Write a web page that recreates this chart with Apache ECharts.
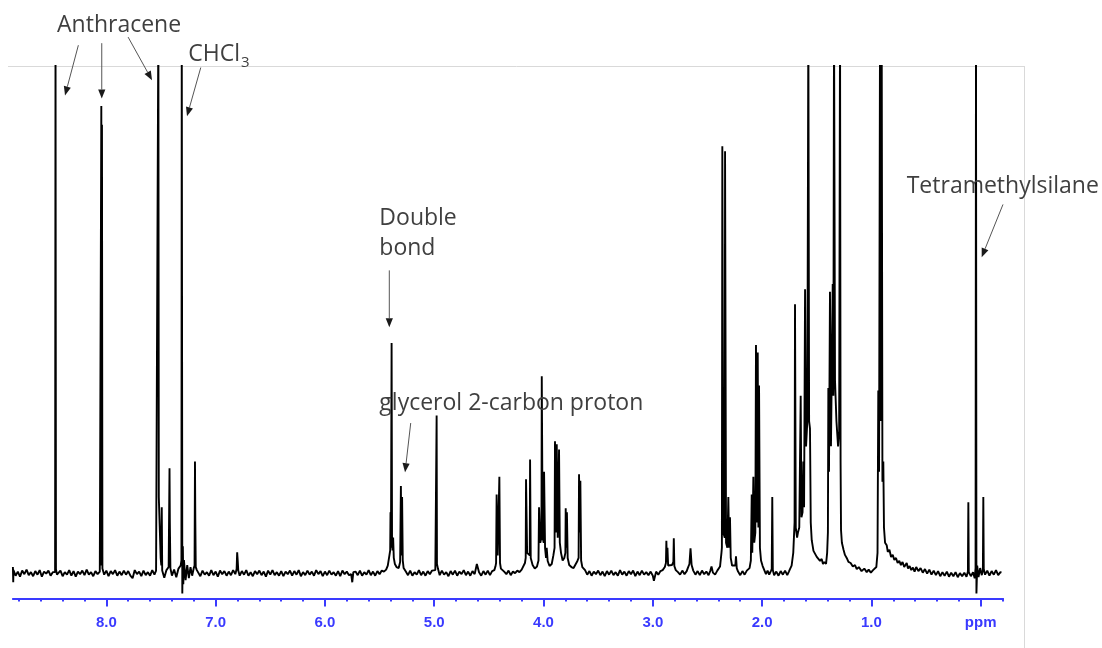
<!DOCTYPE html>
<html>
<head>
<meta charset="utf-8">
<title>1H NMR spectrum</title>
<script src="https://cdn.jsdelivr.net/npm/echarts@6/dist/echarts.min.js"></script>
<style>
  html, body { margin: 0; padding: 0; background: #fff; }
  #chart { width: 1102px; height: 648px; }
</style>
</head>
<body>
<div id="chart"></div>
<script>
// Baseline stretches are digitised every 0.02 ppm: start shift plus the intensities read along it.
function run(startPpm, values) {
  return values.map((v, i) => [Math.round((startPpm - i * 0.02) * 1000) / 1000, v]);
}

// ---- Spectrum: [chemical shift (ppm), intensity], listed from low field to high field ----
const aromaticRegion = [].concat(
  [[8.855,1.2],[8.852,-1.8]],
  run(8.85, [0.6,-0.5,0.3,-0.7,0.5,-0.2,0.7,-0.4,0.2,-0.6,0.4,-0.3,0.6,-0.7,0.3,-0.1,0.5,-0.5,0.2]),
  [[8.475,0.4],[8.469,0.2],[8.465,110],[8.461,0.8],[8.452,-0.3]],
  run(8.44, [-0.4,0.5,-0.6,0.2,-0.3,0.6,-0.5,0.4,-0.7,0.3,-0.2,0.5,-0.4,0.7,-0.3,0.2,-0.6,0.4,-0.2,0.3]),
  [[8.049,0.4],[8.046,92.1],[8.043,1.5],[8.040,88.4],[8.036,0.9]],
  run(8.02, [-0.3,0.5,-0.6,0.4,-0.2,0.6,-0.5,0.3,-0.4,0.5,-0.3,0.4,-0.5,-1.0,0.6,-0.2,0.3,-0.6,0.5,-0.4,0.2,-0.5,0.6,-0.3]),
  [[7.545,0.5],
   [7.528,0.8],[7.524,110],[7.520,15],[7.510,15],[7.503,3],[7.497,1.5],[7.493,13],[7.489,0.5],
   [7.47,-0.9],[7.45,0.6],[7.43,1.2],[7.422,20.7],[7.419,10],[7.414,1.0],
   [7.40,-0.5],[7.38,0.7],[7.36,-0.8],[7.34,0.9],[7.32,1.5],
   [7.313,2.5],[7.310,110],[7.305,-4],[7.300,5.3],[7.296,-2.2],[7.29,2.6],
   [7.275,-1.4],[7.26,1.6],[7.245,-1.0],[7.23,1.2],[7.215,-0.5],[7.20,1.0],
   [7.193,1.5],[7.189,22],[7.186,10.6],[7.182,1.2],[7.172,0.6]],
  run(7.16, [0.4,-0.6,0.5,-0.3,0.2,-0.5,0.6,-0.4,0.3,-0.7,0.5,-0.2,0.4,-0.5,0.3,-0.4,0.6,-0.2]),
  [[6.808,0.8],[6.803,4.1],[6.798,2.5],[6.793,0.5]]
);

const olefinRegion = [].concat(
  run(6.78, [-0.5,0.4,-0.3,0.6,-0.5,0.2,-0.6,0.4,-0.2,0.5,
             -0.4,0.3,-0.7,0.5,-0.3,0.6,-0.4,0.2,-0.5,0.4,
             -0.6,0.3,-0.2,0.5,-0.5,0.4,-0.3,0.6,-0.6,0.2,
             -0.4,0.5,-0.3,0.3,-0.5,0.6,-0.2,0.4,-0.6,0.3,
             -0.4,0.5,-0.3,0.2,-0.5,0.4,-0.6,0.5,-0.2,0.3,-0.4]),
  [[5.76,-0.2],[5.75,-1.8],[5.74,0.2]],
  run(5.72, [0.3,-0.4,0.5,-0.5,0.2,-0.3,0.6,-0.4,0.3,-0.5,0.4,-0.2,0.5,0.3,0.7]),
  [[5.425,1.5],
   [5.41,3.5],[5.403,4.5],[5.400,12],[5.396,5],[5.390,45.4],[5.386,6],[5.381,4.5],[5.376,7],[5.370,3],[5.36,1.8],
   [5.345,1.2],[5.325,1.0],[5.312,2.2],
   [5.305,17.2],[5.300,3.5],[5.294,15],[5.288,2.5],[5.28,1.0]],
  run(5.26, [0.3,-0.4,0.5,-0.5,0.2,-0.3,0.6,-0.4,0.3,-0.5,0.4,-0.2,0.5]),
  [[4.99,0.6],[4.981,0.8],[4.978,31.1],[4.975,1.8],[4.965,0.8]],
  run(4.95, [-0.4,0.5,-0.3,0.2,-0.6,0.4,-0.3,0.5,-0.5,0.3,-0.2,0.6,-0.4,0.3,-0.5,0.4,-0.2])
);

const glycerolRegion = [].concat(
  [[4.61,1.8]],
  run(4.59, [0.2,-0.5,0.4,-0.3,0.5,-0.4,0.4,0.6]),
  [[4.44,1.3],
   [4.434,2],[4.429,15.5],[4.419,3.5],[4.404,19],[4.398,2],[4.39,0.9]],
  run(4.38, [0.8,0.3,-0.2,0.5,-0.4,0.3,0.0,0.5,0.2,0.7]),
  [[4.185,0.9],[4.17,2],
   [4.163,3],[4.160,18.5],[4.150,4],[4.126,3.5],[4.123,22.4],[4.117,3],[4.10,1.6],[4.08,0.9],[4.06,1.3],
   [4.046,2.5],[4.041,13],[4.030,6],[4.019,7],[4.016,38.8],[4.008,7],[3.998,6],[3.995,20],[3.986,5],[3.977,3],[3.971,5],[3.962,2.4],
   [3.945,1.4],[3.925,1.8],[3.91,3.5],
   [3.899,5],[3.895,26],[3.888,8],[3.879,25.4],[3.870,7],[3.858,24.4],[3.851,6],[3.84,4],[3.825,2.5],[3.81,3],
   [3.800,4],[3.797,12.8],[3.791,5],[3.786,12],[3.779,3],
   [3.765,1.6],[3.745,1.2],[3.725,1.0],[3.705,1.8],[3.69,2.4],
   [3.679,3],[3.675,19.5],[3.669,8],[3.663,18.2],[3.656,2.5],
   [3.645,1.2]]
);

const midRegion = [].concat(
  run(3.62, [0.6,-0.3,0.4,-0.5,0.3,-0.2,0.5,-0.4,0.3,-0.6,
             0.4,-0.3,0.5,-0.4,0.2,-0.5,0.6,-0.3,0.3,-0.5,
             0.4,-0.2,0.5,-0.6,0.3,-0.4,0.5,-0.3,0.2,-0.4,
             0.3,-0.5]),
  [[2.99,-1.5]],
  run(2.97, [0.3,-0.3,0.4,0.6]),
  [[2.89,1.2],
   [2.880,2],[2.876,6.4],[2.871,2.2],[2.866,5],[2.860,1.5],
   [2.845,1.2],[2.825,1.6],[2.812,2.2],[2.808,6.9],[2.803,1.4],[2.79,0.6]],
  run(2.77, [0.2,-0.3,0.5,-0.2,0.4]),
  [[2.68,1.0],[2.665,1.8],[2.655,4.9],[2.645,1.6],[2.63,0.5]],
  run(2.61, [-0.3,0.4,-0.4,0.5,-0.2,0.3,-0.4]),
  [[2.475,0.4],[2.463,1.3],[2.45,0.1],[2.43,-0.3],[2.41,0.5],[2.395,0.2]]
);

const aliphaticRegion = [
  [2.385,1.3],[2.372,4],[2.368,5],[2.364,84.2],[2.355,8],[2.342,7],[2.339,83.2],[2.330,6],[2.318,5],[2.309,15],
  [2.302,5],[2.294,11],[2.287,3],[2.275,1.5],[2.26,1.2],[2.245,1.5],[2.239,3.3],[2.232,1.0],
  [2.22,0.3],[2.20,-0.4],[2.18,0.4],[2.16,-0.3],[2.14,0.5],[2.125,0.2],[2.115,1.0],[2.103,2.5],
  [2.095,15.5],[2.090,4],[2.080,19],[2.072,6],[2.062,8],[2.056,45],[2.048,10],[2.040,43.5],[2.034,9],[2.028,37],
  [2.020,5],[2.010,2.5],[1.995,1.4],
  [1.98,0.6],[1.965,-0.2],[1.95,0.5],[1.935,-0.3],[1.92,0.4],[1.912,0.8],[1.907,15],[1.902,0.6],
  [1.89,-0.4],[1.87,0.3],[1.85,-0.5],[1.83,0.4],[1.81,-0.3],[1.79,0.5],[1.77,-0.4],
  [1.755,0.3],[1.745,0.8],[1.73,1.5],[1.715,4],
  [1.703,10],[1.699,53],[1.692,9],[1.680,7],[1.672,8],[1.660,9],[1.647,35],[1.640,11],[1.630,12],[1.623,22],
  [1.616,13],[1.607,56],[1.598,25],[1.586,30],[1.577,110],[1.570,30],[1.562,28.5],[1.555,10],
  [1.546,6.5],[1.530,4.4],[1.515,4.6],[1.500,3.2],[1.485,3.4],[1.470,2.4],[1.455,2.8],[1.443,1.8],[1.430,2.2],[1.415,1.8],[1.405,4],
  [1.398,8],[1.394,36.5],[1.388,20],[1.379,55.5],[1.370,25],[1.354,57],[1.348,35],[1.342,110],[1.333,38],[1.320,30],
  [1.305,25],[1.295,28],[1.287,110],[1.282,22],[1.278,8.5],
  [1.27,6],[1.255,4.6],[1.242,3.6],[1.226,3.0],[1.21,2.2],[1.19,2.0],[1.17,1.3],[1.15,1.6],[1.134,0.8],[1.115,1.2],
  [1.09,0.4],[1.065,0.9],[1.043,0.2],[1.025,0.7],[1.005,0.1],[0.985,0.6],[0.967,0.3],[0.955,1.2],
  [0.944,4],[0.937,36],[0.930,20],[0.921,110],[0.914,30],[0.906,110],[0.899,18],[0.891,22],[0.885,9],
  [0.875,6],[0.860,5.5],[0.850,4.2],[0.835,4.6],[0.82,3.2],[0.805,3.6],[0.79,2.6],[0.775,3.0],[0.76,2.0],[0.745,2.4],
  [0.73,1.6],[0.715,2.2],[0.70,1.2],[0.677,2.0],[0.665,0.9],[0.65,1.4],[0.635,0.6],[0.62,1.1],[0.605,0.3]
];

const referenceRegion = [].concat(
  run(0.59, [1.2,0.4,1.0,0.1,0.8,-0.1,0.7,-0.3,0.5,-0.4,0.4,-0.6,0.2,-0.5,0.3,-0.7,0.1,-0.6,0.2,-0.8,0.0,-0.6,0.1,-0.7]),
  [[0.117,0.3],[0.113,14],[0.109,0.2],[0.09,-0.6],[0.07,0.2],[0.055,-1],
   [0.047,1],[0.043,110],[0.039,-4],[0.032,1.5],[0.02,-0.8],[0.005,1.0],[-0.01,-0.4],
   [-0.020,0.6],[-0.024,15],[-0.028,0.8]],
  run(-0.04, [-0.3,0.5,-0.5,0.4,-0.3,0.6,-0.4,0.2]),
  [[-0.19,0.1]]
);

const spectrum = [].concat(aromaticRegion, olefinRegion, glycerolRegion, midRegion, aliphaticRegion, referenceRegion);

// ---- Axis ticks ----
const tickValues = [8, 7, 6, 5, 4, 3, 2, 1, 0];
const tickLabels = ['8.0', '7.0', '6.0', '5.0', '4.0', '3.0', '2.0', '1.0', 'ppm'];
const minorTickValues = [];
for (let i = -1; i <= 44; i++) minorTickValues.push(Math.round(i * 2) / 10);

// ---- Peak assignments: label text and where it sits (ppm, intensity) ----
const annotationTexts = ['Anthracene', '{m|CHCl}{s|3}', 'Double\nbond', 'glycerol 2-carbon proton', 'Tetramethylsilane'];
const annotationAnchors = [[8.451, 108.0], [7.250, 102.2], [5.502, 66.9], [5.502, 33.5], [0.677, 76.3]];

// Arrows: [from ppm, from intensity, to ppm, to intensity]
const arrows = [
  [8.256, 104.1, 8.378, 94.2],
  [8.042, 104.5, 8.042, 93.6],
  [7.801, 105.7, 7.582, 97.2],
  [7.136, 99.7, 7.262, 90.1],
  [5.411, 59.7, 5.411, 48.5],
  [5.215, 29.6, 5.267, 19.9],
  [-0.204, 72.7, -0.009, 62.3]
];

const AXIS_BLUE = '#3a3aff';
const TEXT_GREY = '#3f3f3f';
const TEXT_FONT = '"Open Sans", "DejaVu Sans", sans-serif';

const chart = echarts.init(document.getElementById('chart'), null, { renderer: 'canvas' });

chart.setOption({
  animation: false,
  backgroundColor: '#ffffff',
  grid: { left: 12.9, right: 98.9, top: 66, bottom: 49.5, containLabel: false },
  xAxis: [
    {
      type: 'value', inverse: true, min: -0.205, max: 8.855, position: 'bottom',
      axisLine: { show: true, onZero: false, lineStyle: { color: AXIS_BLUE, width: 2 } },
      axisTick: { show: true, inside: false, length: 8, customValues: tickValues,
                  lineStyle: { color: AXIS_BLUE, width: 2 } },
      axisLabel: {
        show: true, customValues: tickValues, margin: 17,
        color: AXIS_BLUE, fontWeight: 'bold', fontSize: 15, fontFamily: '"Liberation Sans", Arial, sans-serif',
        formatter: v => tickLabels[tickValues.indexOf(Math.round(v))]
      },
      splitLine: { show: false }, minorTick: { show: false }
    },
    {
      type: 'value', inverse: true, min: -0.205, max: 8.855, position: 'bottom',
      axisLine: { show: false, onZero: false },
      axisTick: { show: true, inside: false, length: 3, customValues: minorTickValues,
                  lineStyle: { color: AXIS_BLUE, width: 2 } },
      axisLabel: { show: false },
      splitLine: { show: false }
    }
  ],
  yAxis: { type: 'value', min: -5, max: 100, show: false, splitLine: { show: false } },
  graphic: [
    { type: 'line', silent: true, z: -1, shape: { x1: 8, y1: 66.5, x2: 1025, y2: 66.5 },
      style: { stroke: '#d9d9d9', lineWidth: 1 } },
    { type: 'line', silent: true, z: -1, shape: { x1: 1024.5, y1: 66, x2: 1024.5, y2: 648 },
      style: { stroke: '#d9d9d9', lineWidth: 1 } }
  ],
  series: [
    {
      name: '1H NMR', type: 'line', xAxisIndex: 0, yAxisIndex: 0,
      data: spectrum, showSymbol: false, symbol: 'none', clip: true, smooth: false,
      lineStyle: { color: '#000000', width: 1.9 }, z: 3
    },
    {
      name: 'arrows', type: 'custom', xAxisIndex: 0, yAxisIndex: 0, clip: false, z: 5,
      encode: { x: [0, 2], y: [1, 3] },
      data: arrows,
      renderItem: function (params, api) {
        const p0 = api.coord([api.value(0), api.value(1)]);
        const p1 = api.coord([api.value(2), api.value(3)]);
        const dx = p1[0] - p0[0], dy = p1[1] - p0[1];
        const len = Math.sqrt(dx * dx + dy * dy) || 1;
        const ux = dx / len, uy = dy / len;
        const head = 9, half = 3.6;
        const bx = p1[0] - ux * head, by = p1[1] - uy * head;
        return {
          type: 'group',
          children: [
            { type: 'line', shape: { x1: p0[0], y1: p0[1], x2: bx, y2: by },
              style: { stroke: '#555555', lineWidth: 1 } },
            { type: 'polygon',
              shape: { points: [p1, [bx - uy * half, by + ux * half], [bx + uy * half, by - ux * half]] },
              style: { fill: '#1a1a1a' } }
          ]
        };
      }
    },
    {
      name: 'assignments', type: 'custom', xAxisIndex: 0, yAxisIndex: 0, clip: false, z: 6,
      data: annotationAnchors,
      renderItem: function (params, api) {
        const p = api.coord([api.value(0), api.value(1)]);
        return {
          type: 'text', x: p[0], y: p[1],
          style: {
            text: annotationTexts[params.dataIndex],
            fill: TEXT_GREY, fontSize: 23, fontFamily: TEXT_FONT, lineHeight: 30,
            align: 'left', verticalAlign: 'middle',
            rich: {
              m: { fontSize: 23, fontFamily: TEXT_FONT, fill: TEXT_GREY, lineHeight: 30 },
              s: { fontSize: 15, fontFamily: TEXT_FONT, fill: TEXT_GREY, lineHeight: 15, padding: [15, 0, 0, 1] }
            }
          }
        };
      }
    }
  ]
});
</script>
</body>
</html>
